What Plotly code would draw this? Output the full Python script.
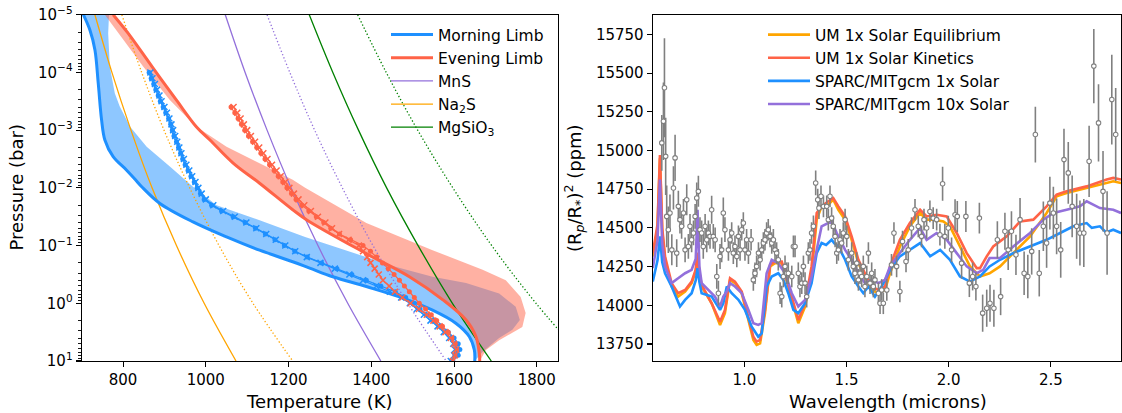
import plotly.graph_objects as go

# ---------------- LEFT PANEL DATA (temperature in K, log10 pressure in bar) ----------------
MORN_LOGP = [-5, -4.73, -4.39, -3.81, -3.18, -2.83, -2.54, -2.31, -2.14, -2.02, -1.73, -1.41, -1.15,
             -0.92, -0.72, -0.61, -0.46, -0.29, -0.11, 0.12, 0.35, 0.58, 0.81, 1.0]
MORN_T = [704, 720, 732, 740, 748, 756, 776, 808, 830, 845, 889, 969, 1050,
          1130, 1210, 1251, 1307, 1388, 1468, 1548, 1605, 1637, 1649, 1650]

MORN_EDGE_LOGP = [-5, -4.68, -4.1, -3.64, -3.41, -3.06, -2.71, -2.37, -2.02, -1.70, -1.44, -1.15,
                  -0.63, -0.46, -0.35, -0.17, 0.06, 0.29, 0.46, 0.60, 0.84, 1.0]
MORN_EDGE_T = [766, 764, 768, 780, 792, 817, 857, 913, 969, 1026, 1130, 1240,
               1460, 1548, 1629, 1709, 1749, 1759, 1741, 1709, 1669, 1650]

EVE_LOGP = [-5, -4.68, -4.1, -3.52, -3.06, -2.83, -2.43, -2.08, -1.62, -1.44, -0.86, -0.46,
            -0.06, 0.29, 0.58, 0.87, 1.0]
EVE_T = [776, 812, 870, 929, 977, 1010, 1066, 1130, 1210, 1245, 1388, 1492,
         1573, 1629, 1653, 1661, 1662]

EVE_EDGE_LOGP = [-5, -4.68, -4.1, -3.52, -3.06, -2.71, -2.43, -2.14, -2.0, -1.39, -0.92, -0.58,
                 -0.40, -0.11, 0.17, 0.41, 0.64, 0.81, 1.0]
EVE_EDGE_T = [756, 788, 849, 913, 977, 1050, 1130, 1210, 1240, 1388, 1548, 1669,
              1725, 1761, 1773, 1765, 1709, 1677, 1662]

MORN_PROF_LOGP = [-4.0, -3.9, -3.8, -3.7, -3.6, -3.5, -3.4, -3.3, -3.2, -3.1, -3.0, -2.9, -2.8,
                  -2.7, -2.6, -2.5, -2.4, -2.3, -2.2, -2.1, -2.0, -1.9, -1.8, -1.7, -1.6, -1.5,
                  -1.4, -1.3, -1.2, -1.1, -1.0, -0.9, -0.8, -0.7, -0.6, -0.5, -0.4, -0.3, -0.2,
                  -0.1, 0.0, 0.1, 0.2, 0.3, 0.4, 0.5, 0.6, 0.7, 0.8, 0.9, 1.0]
MORN_DOT_T = [863, 868, 874, 879, 885, 890, 897, 903, 910, 915, 919, 923, 929, 934, 939, 944, 950,
              957, 964, 972, 979, 987, 996, 1014, 1038, 1066, 1095, 1120, 1144, 1167, 1190, 1215,
              1245, 1280, 1317, 1353, 1388, 1423, 1458, 1483, 1503, 1518, 1534, 1550, 1569, 1586,
              1600, 1610, 1614, 1610, 1597]
MORN_X_T = [866, 871, 877, 882, 888, 893, 900, 906, 912, 917, 921, 926, 931, 936, 941, 947, 953,
            960, 967, 975, 982, 990, 1000, 1018, 1042, 1070, 1098, 1122, 1146, 1169, 1192, 1216,
            1244, 1277, 1312, 1347, 1380, 1412, 1445, 1472, 1493, 1510, 1527, 1543, 1560, 1575,
            1588, 1598, 1602, 1600, 1592]

EVE_PROF_LOGP = [-3.4, -3.3, -3.2, -3.1, -3.0, -2.9, -2.8, -2.7, -2.6, -2.5, -2.4, -2.3, -2.2,
                 -2.1, -2.0, -1.9, -1.8, -1.7, -1.6, -1.5, -1.4, -1.3, -1.2, -1.1, -1.0, -0.9,
                 -0.8, -0.7, -0.6, -0.5, -0.4, -0.3, -0.2, -0.1, 0.0, 0.1, 0.2, 0.3, 0.4, 0.5,
                 0.6, 0.7, 0.8, 0.9, 1.0]
EVE_DOT_T = [1061, 1070, 1078, 1086, 1094, 1103, 1113, 1123, 1133, 1143, 1154, 1165, 1175, 1186,
             1196, 1207, 1218, 1232, 1249, 1267, 1285, 1302, 1323, 1350, 1380, 1398, 1413, 1427,
             1441, 1455, 1468, 1480, 1492, 1504, 1516, 1531, 1545, 1558, 1572, 1586, 1595, 1603,
             1606, 1602, 1595]
EVE_X_T = [1067, 1076, 1084, 1092, 1100, 1109, 1119, 1129, 1139, 1149, 1160, 1171, 1181, 1192,
           1202, 1213, 1224, 1238, 1254, 1271, 1289, 1305, 1322, 1345, 1370, 1380, 1390, 1398,
           1408, 1418, 1428, 1443, 1457, 1475, 1495, 1515, 1534, 1550, 1565, 1579, 1592, 1600,
           1605, 1602, 1597]

COND_LOGP = [-5, -4, -3, -2, -1, 0, 1]
MNS_SOLID = [1047, 1095, 1148, 1206, 1271, 1343, 1423]
MNS_DOT = [1148, 1203, 1263, 1330, 1404, 1488, 1581]
NA2S_SOLID = [732, 773, 819, 870, 929, 996, 1073]
NA2S_DOT = [797, 845, 899, 961, 1032, 1114, 1210]
MGSIO3_SOLID = [1250, 1307, 1369, 1437, 1513, 1596, 1690]
MGSIO3_DOT = [1367, 1436, 1512, 1597, 1691, 1798, 1919]

P_TICKS = [-5, -4, -3, -2, -1, 0, 1]
T_TICKS = [800, 1000, 1200, 1400, 1600, 1800]

# ---------------- RIGHT PANEL DATA (wavelength in micron, depth in ppm) ----------------
WL_SPARC1 = [0.552, 0.575, 0.587, 0.598, 0.612, 0.644, 0.685, 0.71, 0.742, 0.762, 0.771, 0.78, 0.791,
             0.84, 0.881, 0.897, 0.914, 0.938, 0.971, 1.003, 1.036, 1.068, 1.085, 1.109, 1.134,
             1.166, 1.191, 1.215, 1.24, 1.264, 1.297, 1.329, 1.354, 1.378, 1.40, 1.427, 1.44, 1.46,
             1.493, 1.525, 1.558, 1.582, 1.607, 1.639, 1.672, 1.713, 1.761, 1.81, 1.86, 1.909,
             1.958, 2.006, 2.055, 2.104, 2.153, 2.2, 2.251, 2.316, 2.398, 2.479, 2.545, 2.61,
             2.675, 2.70, 2.74, 2.77, 2.805, 2.843]
D_SPARC1 = [14153, 14290, 14445, 14280, 14207, 14121, 13992, 14035, 14078, 14160, 14240, 14150, 14078,
            14056, 13970, 14013, 14121, 14078, 14035, 13970, 13862, 13797, 13818, 14121, 14186,
            14207, 14164, 14078, 13970, 13949, 14013, 14143, 14337, 14402, 14390, 14423, 14400, 14380,
            14294, 14186, 14121, 14078, 14121, 14056, 14121, 14229, 14316, 14358, 14402, 14316,
            14358, 14294, 14186, 14153, 14186, 14251, 14294, 14337, 14380, 14423, 14467, 14510,
            14531, 14500, 14510, 14470, 14488, 14467]

WL_UM_EQ = [0.552, 0.575, 0.587, 0.598, 0.612, 0.644, 0.676, 0.71, 0.742, 0.762, 0.771, 0.78, 0.791,
            0.84, 0.881, 0.905, 0.93, 0.954, 0.987, 1.02, 1.044, 1.06, 1.077, 1.101, 1.126, 1.15,
            1.183, 1.215, 1.248, 1.264, 1.297, 1.329, 1.354, 1.378, 1.411, 1.435, 1.46, 1.493,
            1.525, 1.558, 1.59, 1.623, 1.656, 1.688, 1.713, 1.761, 1.81, 1.86, 1.892, 1.925, 1.974,
            2.006, 2.055, 2.104, 2.153, 2.2, 2.251, 2.316, 2.398, 2.479, 2.528, 2.577, 2.675,
            2.773, 2.805, 2.843]
D_UM_EQ = [14315, 14500, 14950, 14480, 14294, 14121, 14056, 14089, 14143, 14220, 14330, 14200, 14121,
           14013, 13873, 13949, 14164, 14143, 14078, 13905, 13776, 13744, 13754, 13949, 14251, 14272,
           14272, 14121, 13949, 13884, 13992, 14207, 14553, 14639, 14650, 14682, 14617, 14553,
           14423, 14272, 14186, 14099, 14078, 14099, 14207, 14380, 14510, 14596, 14553, 14553, 14542,
           14510, 14380, 14251, 14186, 14207, 14251, 14337, 14445, 14596, 14704, 14725, 14758,
           14790, 14801, 14790]

WL_UM_KIN = [0.552, 0.575, 0.587, 0.598, 0.612, 0.644, 0.676, 0.71, 0.742, 0.762, 0.771, 0.78, 0.791,
             0.84, 0.881, 0.905, 0.93, 0.954, 0.987, 1.02, 1.044, 1.06, 1.077, 1.101, 1.126, 1.15,
             1.183, 1.215, 1.248, 1.264, 1.297, 1.329, 1.354, 1.378, 1.411, 1.435, 1.46, 1.493,
             1.525, 1.558, 1.59, 1.623, 1.656, 1.688, 1.713, 1.761, 1.81, 1.86, 1.892, 1.941, 1.99,
             2.039, 2.088, 2.137, 2.153, 2.186, 2.218, 2.284, 2.349, 2.414, 2.479, 2.528, 2.577,
             2.675, 2.773, 2.805, 2.843]
D_UM_KIN = [14337, 14520, 14970, 14500, 14315, 14143, 14078, 14099, 14153, 14230, 14340, 14210, 14132,
            14013, 13894, 13970, 14175, 14153, 14089, 13927, 13797, 13765, 13776, 13970, 14261, 14283,
            14283, 14132, 13970, 13905, 14013, 14251, 14596, 14639, 14672, 14693, 14639, 14574,
            14445, 14294, 14207, 14121, 14099, 14121, 14251, 14423, 14531, 14617, 14574, 14585, 14574,
            14467, 14337, 14240, 14240, 14316, 14380, 14445, 14542, 14553, 14639, 14715, 14736,
            14768, 14812, 14823, 14812]

WL_SPARC10 = [0.552, 0.575, 0.587, 0.598, 0.612, 0.644, 0.676, 0.71, 0.742, 0.762, 0.771, 0.78, 0.791,
              0.823, 0.856, 0.881, 0.897, 0.914, 0.93, 0.954, 0.987, 1.02, 1.044, 1.068, 1.085,
              1.109, 1.134, 1.166, 1.199, 1.232, 1.264, 1.297, 1.329, 1.354, 1.378, 1.427, 1.452,
              1.493, 1.525, 1.558, 1.59, 1.623, 1.656, 1.688, 1.713, 1.761, 1.81, 1.86, 1.892,
              1.941, 1.99, 2.039, 2.088, 2.137, 2.169, 2.2, 2.251, 2.316, 2.398, 2.463, 2.512,
              2.577, 2.642, 2.675, 2.74, 2.805, 2.843]
D_SPARC10 = [14240, 14420, 14812, 14400, 14251, 14143, 14175, 14207, 14229, 14300, 14617, 14250, 14143,
             14099, 14056, 13992, 14056, 14089, 14143, 14121, 14078, 13970, 13884, 13873, 13884,
             14207, 14294, 14272, 14207, 14078, 13992, 14035, 14186, 14358, 14510, 14542, 14467,
             14358, 14294, 14207, 14143, 14164, 14143, 14164, 14251, 14337, 14423, 14499, 14423,
             14467, 14423, 14337, 14251, 14207, 14229, 14305, 14305, 14380, 14467, 14553, 14596,
             14617, 14639, 14672, 14628, 14617, 14596]

OBS_WL = [0.596, 0.604, 0.609, 0.615, 0.620, 0.628, 0.636, 0.645, 0.653, 0.661, 0.669, 0.677, 0.685,
          0.693, 0.702, 0.710, 0.718, 0.726, 0.734, 0.742, 0.751, 0.759, 0.767, 0.775, 0.783, 0.791,
          0.799, 0.808, 0.816, 0.824, 0.832, 0.840, 0.848, 0.857, 0.865, 0.873, 0.881, 0.889, 0.897,
          0.905, 0.922, 0.930, 0.938, 0.946, 0.954, 0.963, 0.971, 0.979, 0.987, 0.995, 1.003, 1.011,
          1.020, 1.033, 1.044, 1.052, 1.060, 1.069, 1.077, 1.085, 1.093, 1.101, 1.109, 1.117, 1.126,
          1.134, 1.142, 1.150, 1.158, 1.166, 1.175, 1.183, 1.191, 1.199, 1.207, 1.215, 1.232, 1.240,
          1.248, 1.264, 1.272, 1.281, 1.289, 1.297, 1.305, 1.313, 1.321, 1.329, 1.338, 1.349, 1.359,
          1.365, 1.375, 1.387, 1.403, 1.411, 1.419, 1.427, 1.435, 1.444, 1.452, 1.460, 1.468, 1.476,
          1.484, 1.493, 1.501, 1.509, 1.525, 1.533, 1.541, 1.550, 1.558, 1.566, 1.574, 1.582, 1.590,
          1.599, 1.607, 1.615, 1.623, 1.631, 1.639, 1.656, 1.664, 1.672, 1.680, 1.697, 1.720, 1.732,
          1.745, 1.761, 1.774, 1.791, 1.802, 1.818, 1.835, 1.851, 1.867, 1.879, 1.892, 1.908, 1.924,
          1.941, 1.957, 1.970, 1.981, 1.998, 2.014, 2.031, 2.042, 2.063, 2.084, 2.101, 2.117, 2.133,
          2.150, 2.166, 2.186, 2.202, 2.221, 2.238, 2.254, 2.275, 2.291, 2.307, 2.329, 2.349, 2.369,
          2.387, 2.406, 2.424, 2.443, 2.463, 2.479, 2.495, 2.512, 2.528, 2.548, 2.564, 2.585, 2.604,
          2.626, 2.642, 2.661, 2.687, 2.710, 2.733, 2.755, 2.775, 2.798, 2.817]
OBS_D = [15049, 15189, 15405, 14962, 14574, 14488, 14596, 14358, 14758, 14952, 14337, 14639, 14553,
         14510, 14596, 14358, 14682, 14380, 14510, 14423, 14467, 14574, 14693, 14736, 14488, 14467,
         14380, 14510, 14423, 14467, 14445, 14617, 14445, 14423, 14186, 14078, 14315, 14358, 14596,
         14488, 14358, 14423, 14467, 14337, 14380, 14315, 14445, 14358, 14488, 14531, 14358, 14423,
         14337, 14423, 14164, 14207, 14251, 14337, 14294, 14358, 14402, 14423, 14467, 14488, 14445,
         14402, 14423, 14358, 14337, 14294, 14078, 14056, 14186, 14251, 14207, 14207, 14186, 14380,
         14380, 14207, 14121, 14143, 14251, 14143, 14056, 14337, 14358, 14467, 14510, 14790, 14682,
         14628, 14704, 14639, 14639, 14553, 14704, 14563, 14510, 14445, 14337, 14358, 14423, 14402,
         14467, 14553, 14445, 14294, 14337, 14251, 14207, 14272, 14164, 14207, 14186, 14251, 14121,
         14186, 14337, 14143, 14207, 14121, 14164, 14078, 14013, 14099, 14013, 14099, 14261, 14467,
         14251, 14089, 14412, 14283, 14358, 14499, 14617, 14510, 14445, 14553, 14499, 14606, 14563,
         14553, 14456, 14785, 14445, 14499, 14358, 14585, 14574, 14272, 14574, 14143, 14186, 14121,
         14563, 13949, 13981, 14013, 13981, 14423, 14056, 14478, 14358, 14478, 14326, 14553, 14207,
         14186, 14348, 15103, 14207, 14510, 14402, 14660, 14596, 14510, 14358, 14941, 14855, 14639,
         14510, 14467, 14467, 14930, 15545, 15178, 14736, 14467, 15329, 15103]
OBS_ERR = [180, 250, 320, 250, 200, 150, 120, 100, 140, 150, 90, 100, 90,
           80, 90, 80, 100, 80, 80, 80, 80, 80, 100, 100, 80, 80,
           80, 80, 80, 80, 80, 90, 80, 80, 80, 80, 80, 80, 100,
           80, 70, 70, 70, 70, 70, 70, 70, 70, 70, 70, 70, 70,
           70, 70, 70, 70, 70, 70, 70, 70, 70, 70, 70, 70, 70,
           70, 70, 70, 70, 70, 70, 70, 70, 70, 70, 70, 70, 70,
           70, 70, 70, 70, 70, 70, 70, 70, 70, 70, 70, 80, 70,
           70, 70, 70, 70, 70, 70, 70, 70, 70, 70, 70, 70, 70,
           70, 70, 70, 70, 70, 70, 70, 70, 70, 70, 70, 70, 70,
           70, 70, 70, 70, 70, 70, 70, 70, 70, 70, 70, 70, 70,
           70, 70, 70, 70, 70, 70, 70, 70, 70, 70, 70, 70, 70,
           70, 70, 110, 80, 80, 80, 100, 100, 100, 100, 90, 90, 90,
           100, 120, 120, 120, 120, 120, 120, 120, 130, 130, 130, 140, 140,
           140, 150, 180, 150, 160, 160, 170, 170, 180, 180, 200, 200, 200,
           210, 210, 220, 230, 240, 250, 260, 270, 290, 300]

WL_TICKS = [1.0, 1.5, 2.0, 2.5]
D_TICKS = [13750, 14000, 14250, 14500, 14750, 15000, 15250, 15500, 15750]

# ---------------- STYLE ----------------
BLUE = "#1E90FF"
RED = "#FF6347"
PURPLE = "#9370DB"
ORANGE = "#FFA500"
GREEN = "#008000"
GREY = "#808080"
FONT = "DejaVu Sans"
W, H = 1122, 413
DOT = "1.3px,2.2px"


def P(lst):
    return [10 ** v for v in lst]


fig = go.Figure()

# ---- left: bands ----
fig.add_trace(go.Scatter(x=MORN_T + MORN_EDGE_T[::-1], y=P(MORN_LOGP + MORN_EDGE_LOGP[::-1]),
                         fill="toself", fillcolor="rgba(30,144,255,0.5)", line=dict(width=0),
                         mode="lines", showlegend=False, hoverinfo="skip", xaxis="x", yaxis="y"))
fig.add_trace(go.Scatter(x=EVE_T + EVE_EDGE_T[::-1], y=P(EVE_LOGP + EVE_EDGE_LOGP[::-1]),
                         fill="toself", fillcolor="rgba(255,99,71,0.5)", line=dict(width=0),
                         mode="lines", showlegend=False, hoverinfo="skip", xaxis="x", yaxis="y"))

# ---- condensation curves ----
rank = 3
for name, solid, dot, col in [("MnS", MNS_SOLID, MNS_DOT, PURPLE),
                              ("Na<sub>2</sub>S", NA2S_SOLID, NA2S_DOT, ORANGE),
                              ("MgSiO<sub>3</sub>", MGSIO3_SOLID, MGSIO3_DOT, GREEN)]:
    fig.add_trace(go.Scatter(x=solid, y=P(COND_LOGP), mode="lines", name=name, legendrank=rank,
                             line=dict(color=col, width=1.3, shape="spline"), legend="legend",
                             xaxis="x", yaxis="y"))
    fig.add_trace(go.Scatter(x=dot, y=P(COND_LOGP), mode="lines", showlegend=False,
                             line=dict(color=col, width=1.3, dash=DOT, shape="spline"),
                             xaxis="x", yaxis="y"))
    rank += 1

# ---- limb profiles ----
fig.add_trace(go.Scatter(x=MORN_T, y=P(MORN_LOGP), mode="lines", name="Morning Limb", legendrank=1,
                         line=dict(color=BLUE, width=3, shape="spline"), legend="legend",
                         xaxis="x", yaxis="y"))
fig.add_trace(go.Scatter(x=EVE_T, y=P(EVE_LOGP), mode="lines", name="Evening Limb", legendrank=2,
                         line=dict(color=RED, width=3, shape="spline"), legend="legend",
                         xaxis="x", yaxis="y"))

for t_arr, lp, col in [(MORN_DOT_T, MORN_PROF_LOGP, BLUE), (EVE_DOT_T, EVE_PROF_LOGP, RED)]:
    fig.add_trace(go.Scatter(x=t_arr, y=P(lp), mode="lines+markers", showlegend=False,
                             line=dict(color=col, width=1.2),
                             marker=dict(symbol="circle", size=5, color=col),
                             xaxis="x", yaxis="y"))
for t_arr, lp, col in [(MORN_X_T, MORN_PROF_LOGP, BLUE), (EVE_X_T, EVE_PROF_LOGP, RED)]:
    fig.add_trace(go.Scatter(x=t_arr, y=P(lp), mode="lines+markers", showlegend=False,
                             line=dict(color=col, width=1.2),
                             marker=dict(symbol="x-thin", size=6, line=dict(color=col, width=1.5)),
                             xaxis="x", yaxis="y"))

# ---- right: model spectra ----
for name, wl, d, col in [("UM 1x Solar Equilibrium", WL_UM_EQ, D_UM_EQ, ORANGE),
                         ("UM 1x Solar Kinetics", WL_UM_KIN, D_UM_KIN, RED),
                         ("SPARC/MITgcm 1x Solar", WL_SPARC1, D_SPARC1, BLUE),
                         ("SPARC/MITgcm 10x Solar", WL_SPARC10, D_SPARC10, PURPLE)]:
    fig.add_trace(go.Scatter(x=wl, y=d, mode="lines", name=name, legend="legend2",
                             line=dict(color=col, width=2.6), xaxis="x2", yaxis="y2"))

fig.add_trace(go.Scatter(x=OBS_WL, y=OBS_D, mode="markers", showlegend=False,
                         error_y=dict(type="data", array=OBS_ERR, color=GREY, thickness=1.6, width=0),
                         marker=dict(symbol="circle", size=4.5, color="white", line=dict(color=GREY, width=1.1)),
                         xaxis="x2", yaxis="y2"))

# ---------------- LAYOUT ----------------
ydom = [1 - 361 / H, 1 - 14.7 / H]
axis_common = dict(showline=True, mirror=True, linecolor="black", linewidth=1.1, ticks="outside",
                   ticklen=5, tickwidth=1.1, tickcolor="black", showgrid=False, zeroline=False,
                   automargin=False, tickfont=dict(family=FONT, size=15, color="black"))

log_minor = [m * 10 ** e for e in range(-5, 1) for m in range(2, 10)]

fig.update_layout(
    template="none",
    width=W, height=H, margin=dict(l=0, r=0, t=0, b=0, pad=0),
    paper_bgcolor="white", plot_bgcolor="white",
    font=dict(family=FONT, size=15, color="black"),
    xaxis=dict(domain=[81.7 / W, 557.5 / W], range=[700, 1850], tickvals=T_TICKS,
               anchor="y", **axis_common),
    yaxis=dict(domain=ydom, type="log", range=[1, -5], tickvals=P(P_TICKS),
               ticktext=["10<sup>\u2212%d</sup>" % -v if v < 0 else "10<sup>%d</sup>" % v for v in P_TICKS],
               minor=dict(ticks="outside", ticklen=2.5, tickwidth=0.9, tickcolor="black", tickvals=log_minor),
               anchor="x", **axis_common),
    xaxis2=dict(domain=[652.7 / W, 1121 / W], range=[0.5515, 2.843], tickvals=WL_TICKS,
                ticktext=["%.1f" % v for v in WL_TICKS], anchor="y2", **axis_common),
    yaxis2=dict(domain=ydom, range=[13640, 15877], tickvals=D_TICKS,
                ticktext=[str(v) for v in D_TICKS], anchor="x2", **axis_common),
    legend=dict(x=386 / W, y=1 - 18 / H, xanchor="left", yanchor="top", bgcolor="rgba(0,0,0,0)",
                traceorder="normal", borderwidth=0, itemwidth=42,
                font=dict(family=FONT, size=15.5, color="black")),
    legend2=dict(x=763 / W, y=1 - 18 / H, xanchor="left", yanchor="top", bgcolor="rgba(0,0,0,0)",
                 traceorder="normal", borderwidth=0, itemwidth=42,
                 font=dict(family=FONT, size=15.5, color="black")),
    annotations=[
        dict(text="Pressure (bar)", x=15.5 / W, y=1 - 188 / H, xref="paper", yref="paper",
             xanchor="center", yanchor="middle",
             textangle=-90, showarrow=False, font=dict(family=FONT, size=18)),
        dict(text="Temperature (K)", x=319.6 / W, y=1 - 401 / H, xref="paper", yref="paper",
             xanchor="center", yanchor="middle",
             showarrow=False, font=dict(family=FONT, size=18)),
        dict(text="Wavelength (microns)", x=888 / W, y=1 - 401 / H, xref="paper", yref="paper",
             xanchor="center", yanchor="middle",
             showarrow=False, font=dict(family=FONT, size=18)),
        dict(text="(R<sub><i>p</i></sub>/R<sub>*</sub>)<sup>2</sup> (ppm)", x=574 / W, y=1 - 188 / H,
             xref="paper", yref="paper", xanchor="center", yanchor="middle",
             textangle=-90, showarrow=False, font=dict(family=FONT, size=18)),
    ],
)

fig.write_html("out.html", config={"displayModeBar": False, "staticPlot": True},
               post_script="document.body.style.margin='0';document.body.style.padding='0';"
                           "document.documentElement.style.overflow='hidden';")
